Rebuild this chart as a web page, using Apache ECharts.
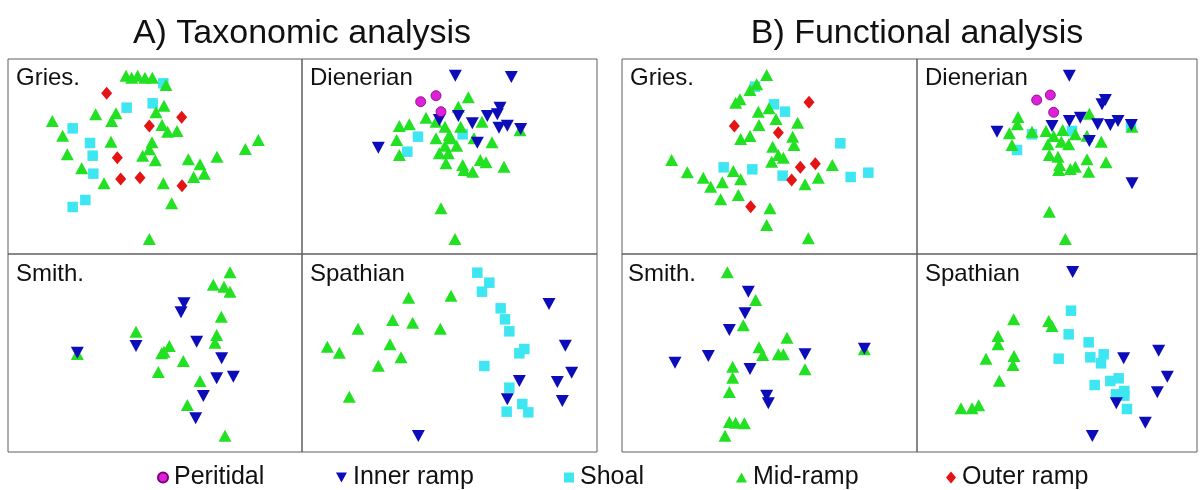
<!DOCTYPE html>
<html><head><meta charset="utf-8">
<script src="https://cdn.jsdelivr.net/npm/echarts@6/dist/echarts.min.js"></script>
<style>html,body{margin:0;padding:0;background:#fff}#c{width:1200px;height:490px}</style>
</head><body><div id="c"></div>
<script>
// Ordination scores (picture-read units; y grows downward)
// A) Taxonomic analysis
const A_Gries_mid = [[378,62],[395,68],[413,62],[435,68],[457,68],[498,90],[492,152],[468,172],[348,175],[287,178],[335,198],[157,198],[486,210],[503,230],[531,228],[188,242],[333,260],[456,262],[448,283],[428,302],[466,316],[202,298],[565,313],[651,305],[736,282],[775,255],[600,328],[613,356],[581,366],[245,340],[312,385],[490,385],[515,445],[448,552]];
const A_Gries_shoal = [[490,85],[380,158],[458,145],[218,220],[270,264],[278,302],[280,356],[256,435],[218,456]];
const A_Gries_outer = [[320,115],[545,187],[448,213],[352,308],[362,372],[420,368],[546,392]];

const A_Dien_peri = [[362,140],[408,122],[423,170]];
const A_Dien_inner = [[466,62],[634,66],[600,158],[592,178],[562,183],[475,183],[418,195],[517,205],[597,218],[622,212],[662,222],[532,263],[235,278]];
const A_Dien_mid = [[505,127],[475,155],[378,188],[546,200],[298,213],[328,208],[408,200],[435,215],[482,215],[290,255],[408,250],[448,240],[453,250],[470,272],[435,272],[418,295],[445,295],[298,300],[438,325],[488,330],[492,345],[518,350],[541,315],[558,322],[612,335],[576,262],[660,226],[522,250],[423,460],[465,552]];
const A_Dien_shoal = [[354,245],[488,238],[322,290]];

const A_Smith_mid = [[690,67],[640,104],[672,110],[690,125],[664,200],[650,255],[645,278],[408,245],[508,288],[485,310],[492,305],[550,333],[475,366],[600,393],[562,465],[675,557],[232,312]];
const A_Smith_inner = [[552,160],[543,187],[590,275],[408,288],[232,308],[665,325],[650,385],[700,380],[610,438],[587,505]];

const A_Spath_mid = [[326,143],[453,137],[278,210],[338,218],[174,236],[421,236],[270,283],[82,290],[118,308],[303,322],[235,347],[148,440]];
const A_Spath_shoal = [[532,68],[568,98],[546,125],[602,175],[615,208],[628,244],[673,297],[658,310],[553,348],[628,413],[667,462],[685,487],[620,485]];
const A_Spath_inner = [[747,162],[796,287],[815,368],[772,396],[658,393],[622,448],[787,453],[355,558]];

// B) Functional analysis
const B_Gries_mid = [[455,60],[425,88],[405,105],[375,133],[362,143],[462,160],[430,170],[483,192],[548,203],[432,210],[405,243],[377,252],[533,245],[537,270],[473,275],[490,300],[505,308],[470,320],[170,315],[217,352],[265,368],[355,348],[377,373],[322,382],[287,395],[370,420],[317,433],[610,368],[652,330],[570,388],[465,460],[455,510],[580,550]];
const B_Gries_shoal = [[420,95],[477,148],[510,170],[676,265],[326,337],[412,343],[503,362],[707,366],[760,353]];
const B_Gries_outer = [[582,142],[358,213],[490,233],[556,337],[601,326],[530,375],[407,455]];

const B_Dien_peri = [[374,135],[415,120],[425,172]];
const B_Dien_inner = [[472,62],[580,135],[570,148],[472,198],[505,188],[420,213],[557,208],[595,210],[618,198],[658,210],[255,230],[532,258],[660,385]];
const B_Dien_mid = [[532,176],[318,186],[316,208],[292,235],[360,230],[402,228],[425,243],[452,225],[448,260],[470,268],[408,268],[300,270],[412,300],[438,305],[443,330],[440,345],[475,342],[490,335],[525,313],[530,350],[582,322],[568,260],[525,242],[490,238],[412,470],[460,552],[660,215]];
const B_Dien_shoal = [[360,238],[480,228],[315,285],[657,213]];

const B_Smith_mid = [[337,67],[422,150],[385,226],[516,263],[432,292],[443,315],[490,313],[505,313],[570,358],[353,350],[353,383],[343,426],[343,516],[362,518],[388,520],[330,557],[748,298]];
const B_Smith_inner = [[400,125],[390,190],[343,240],[280,318],[180,338],[405,357],[570,313],[455,437],[460,460],[748,296]];

const B_Spath_mid = [[305,208],[410,213],[420,228],[258,258],[258,283],[222,326],[306,318],[303,345],[262,392],[147,475],[180,475],[200,466]];
const B_Spath_shoal = [[477,182],[470,253],[530,277],[440,326],[535,322],[575,313],[567,340],[595,393],[620,385],[548,405],[637,423],[612,433],[637,437],[645,477]];
const B_Spath_inner = [[482,66],[635,325],[740,302],[766,380],[736,427],[613,460],[700,518],[541,558]];

// Labels
const groupTitles = ['A) Taxonomic analysis', 'B) Functional analysis'];
const stageNames = ['Gries.', 'Dienerian', 'Smith.', 'Spathian'];
const classNames = ['Peritidal', 'Inner ramp', 'Shoal', 'Mid-ramp', 'Outer ramp'];
</script>
<script>
const FONT = '"Liberation Sans", Arial, Helvetica, sans-serif';
const INV_TRI = 'path://M0,0L12,0L6,11Z';
const cls = {
  'Peritidal':  {symbol:'circle', size:10, color:'#e020d8', border:'#7a007a'},
  'Inner ramp': {symbol:INV_TRI, size:[13,12], color:'#0c0cb8'},
  'Shoal':      {symbol:'rect', size:10.5, color:'#3ee6f2'},
  'Mid-ramp':   {symbol:'triangle', size:[13,12], color:'#22e022'},
  'Outer ramp': {symbol:'diamond', size:[11,13], color:'#e51414'}
};
const panels = [
  {label:stageNames[0], rect:[8,59,294,195],   xr:[24,906], yr:[12,597], lab:[16,78],
   sets:{'Shoal':A_Gries_shoal,'Mid-ramp':A_Gries_mid,'Outer ramp':A_Gries_outer}},
  {label:stageNames[1], rect:[302,59,295,195], xr:[6,891],  yr:[12,597], lab:[310,78],
   sets:{'Shoal':A_Dien_shoal,'Mid-ramp':A_Dien_mid,'Inner ramp':A_Dien_inner,'Peritidal':A_Dien_peri}},
  {label:stageNames[2], rect:[8,254,294,198],  xr:[24,906], yr:[12,606], lab:[16,274],
   sets:{'Mid-ramp':A_Smith_mid,'Inner ramp':A_Smith_inner}},
  {label:stageNames[3], rect:[302,254,295,198],xr:[6,891],  yr:[12,606], lab:[310,274],
   sets:{'Shoal':A_Spath_shoal,'Mid-ramp':A_Spath_mid,'Inner ramp':A_Spath_inner}},
  {label:stageNames[0], rect:[622,59,295,195], xr:[21,906], yr:[12,597], lab:[630,78],
   sets:{'Shoal':B_Gries_shoal,'Mid-ramp':B_Gries_mid,'Outer ramp':B_Gries_outer}},
  {label:stageNames[1], rect:[917,59,280,195], xr:[15,855], yr:[12,597], lab:[925,78],
   sets:{'Shoal':B_Dien_shoal,'Mid-ramp':B_Dien_mid,'Inner ramp':B_Dien_inner,'Peritidal':B_Dien_peri}},
  {label:stageNames[2], rect:[622,254,295,198],xr:[21,906], yr:[12,606], lab:[628,274],
   sets:{'Mid-ramp':B_Smith_mid,'Inner ramp':B_Smith_inner}},
  {label:stageNames[3], rect:[917,254,280,198],xr:[15,855], yr:[12,606], lab:[925,274],
   sets:{'Shoal':B_Spath_shoal,'Mid-ramp':B_Spath_mid,'Inner ramp':B_Spath_inner}}
];
const grid=[], xAxis=[], yAxis=[], series=[], graphic=[];
panels.forEach((p,i)=>{
  grid.push({left:p.rect[0], top:p.rect[1], width:p.rect[2], height:p.rect[3], show:true,
    borderColor:'#5e5e5e', borderWidth:1, backgroundColor:'transparent', containLabel:false});
  xAxis.push({type:'value', gridIndex:i, min:p.xr[0], max:p.xr[1], show:false});
  yAxis.push({type:'value', gridIndex:i, min:p.yr[0], max:p.yr[1], inverse:true, show:false});
  ['Shoal','Mid-ramp','Inner ramp','Peritidal','Outer ramp'].forEach(name=>{
    const d = p.sets[name]; if(!d) return;
    const c = cls[name];
    series.push({type:'scatter', name, xAxisIndex:i, yAxisIndex:i, data:d, symbol:c.symbol,
      symbolSize:c.size, silent:true,
      itemStyle:{color:c.color, borderColor:c.border||c.color, borderWidth:c.border?0.8:0, opacity:1}});
  });
  graphic.push({type:'text', x:p.lab[0], y:p.lab[1], silent:true,
    style:{text:p.label, font:'24px '+FONT, fill:'#111', textAlign:'left', textVerticalAlign:'middle'}});
});
graphic.push({type:'text', x:302, y:34, silent:true,
  style:{text:groupTitles[0], font:'34px '+FONT, fill:'#111', textAlign:'center', textVerticalAlign:'middle'}});
graphic.push({type:'text', x:917, y:34, silent:true,
  style:{text:groupTitles[1], font:'34px '+FONT, fill:'#111', textAlign:'center', textVerticalAlign:'middle'}});

const legendPos = [157, 336, 564, 736, 946];
const legendIcons = ['circle', INV_TRI, 'rect', 'triangle', 'diamond'];
const legendSizes = [[10,10],[11,10],[10,10],[11,10],[10,12]];
const legend = classNames.map((n,k)=>({
  data:[{name:n, icon:legendIcons[k]}], left:legendPos[k], top:465, padding:0,
  itemWidth:legendSizes[k][0], itemHeight:legendSizes[k][1], itemGap:0, selectedMode:false,
  textStyle:{fontSize:25, fontFamily:FONT, color:'#111', padding:[0,0,0,1]}
}));

const chart = echarts.init(document.getElementById('c'), null, {renderer:'canvas'});
chart.setOption({animation:false, backgroundColor:'#fff', grid, xAxis, yAxis, series, graphic, legend});
</script></body></html>
